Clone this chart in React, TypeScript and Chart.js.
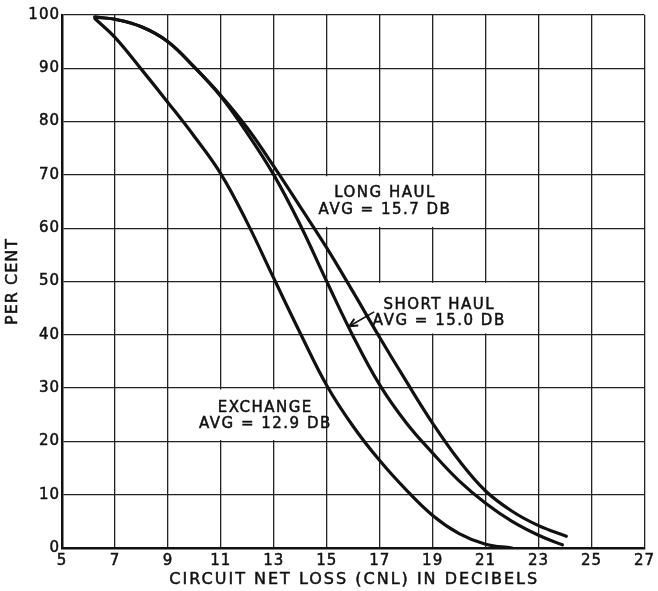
import React, { useEffect, useRef } from 'react';
import { Chart, registerables } from 'chart.js';

Chart.register(...registerables);

// ---- data ----
const exchangeX = [6.25, 7, 8, 9, 10, 11, 12, 13, 14, 15, 16, 17, 18, 19, 20, 21, 22];
const exchangeY = [99.3, 95.8, 89.8, 83.6, 77.2, 70.2, 61, 50.6, 40.3, 30.5, 22.8, 16.4, 10.9, 6.1, 2.7, 0.7, 0];

const shortHaulX = [6.24, 7, 8, 9, 10, 11, 12, 13, 14, 15, 16, 17, 18, 19, 20, 21, 22, 23, 23.9];
const shortHaulY = [99.6, 99.2, 97.8, 95.0, 90.2, 84.7, 77.8, 70, 60.6, 50, 39.7, 30.6, 23.5, 17.8, 12.6, 8.4, 5, 2.4, 0.6];

const longHaulX = [6.24, 7, 8, 9, 10, 11, 12, 13, 14, 15, 16, 17, 18, 19, 20, 21, 22, 23, 24.05];
const longHaulY = [99.6, 99.2, 97.8, 95.0, 90.2, 84.9, 78.8, 71.6, 64, 56.3, 48, 39.5, 31.3, 23.4, 16.4, 10.7, 6.9, 4.2, 2.2];

const xTickMin = 5;
const xTickMax = 27;
const xTickStep = 2;
const yTickMin = 0;
const yTickMax = 100;
const yTickStep = 10;

const xTitle = 'CIRCUIT NET LOSS (CNL) IN DECIBELS';
const yTitle = 'PER CENT';

const labelLongHaul = ['LONG HAUL', 'AVG = 15.7 DB'];
const labelShortHaul = ['SHORT HAUL', 'AVG = 15.0 DB'];
const labelExchange = ['EXCHANGE', 'AVG = 12.9 DB'];

// annotation placement (data units)
const annotations = [
  { lines: labelLongHaul, cx: 17.2, ys: [66.6, 63.4], box: [14.75, 19.95, 60.25, 69.75] },
  { lines: labelShortHaul, cx: 19.25, ys: [45.6, 42.5], box: [16.95, 21.9, 40.25, 49.75] },
  { lines: labelExchange, cx: 12.68, ys: [26.3, 23.2], box: [10.2, 14.9, 20.25, 29.75] },
];
const arrowTail = { x: 16.79, y: 44.3 };
const arrowTip = { x: 15.85, y: 41.6 };

const INK = '#111111';
const FONT = '"DejaVu Sans", sans-serif';

const toPoints = (xs: number[], ys: number[]) => xs.map((x, i) => ({ x, y: ys[i] }));

const drawText = (ctx: any, t: string, x: number, y: number) => {
  ctx.fillText(t, x, y);
  ctx.strokeText(t, x, y);
};

const annotPlugin = {
  id: 'annot',
  beforeDraw(chart: any) {
    (chart.ctx as any).letterSpacing = '1px';
  },
  beforeDatasetsDraw(chart: any) {
    const { ctx, scales } = chart;
    const xs = scales.x;
    const ys = scales.y;
    ctx.save();
    for (const a of annotations) {
      const x0 = xs.getPixelForValue(a.box[0]);
      const x1 = xs.getPixelForValue(a.box[1]);
      const y0 = ys.getPixelForValue(a.box[3]);
      const y1 = ys.getPixelForValue(a.box[2]);
      ctx.fillStyle = '#ffffff';
      ctx.fillRect(x0, y0, x1 - x0, y1 - y0);
      ctx.fillStyle = INK;
      ctx.strokeStyle = INK;
      ctx.lineWidth = 0.5;
      ctx.font = `15px ${FONT}`;
      (ctx as any).letterSpacing = '1.5px';
      ctx.textAlign = 'center';
      ctx.textBaseline = 'middle';
      a.lines.forEach((t: string, i: number) => {
        drawText(ctx, t, xs.getPixelForValue(a.cx), ys.getPixelForValue(a.ys[i]));
      });
    }
    ctx.restore();
  },
  afterDatasetsDraw(chart: any) {
    const { ctx, scales } = chart;
    const xs = scales.x;
    const ys = scales.y;
    const tx = xs.getPixelForValue(arrowTail.x);
    const ty = ys.getPixelForValue(arrowTail.y);
    const hx = xs.getPixelForValue(arrowTip.x);
    const hy = ys.getPixelForValue(arrowTip.y);
    const ang = Math.atan2(hy - ty, hx - tx);
    ctx.save();
    ctx.strokeStyle = INK;
    ctx.lineWidth = 1.6;
    ctx.beginPath();
    ctx.moveTo(tx, ty);
    ctx.lineTo(hx, hy);
    ctx.stroke();
    ctx.lineWidth = 2;
    ctx.beginPath();
    const L = 9;
    ctx.moveTo(hx + L * Math.cos(ang + Math.PI - 0.45), hy + L * Math.sin(ang + Math.PI - 0.45));
    ctx.lineTo(hx, hy);
    ctx.lineTo(hx + L * Math.cos(ang + Math.PI + 0.45), hy + L * Math.sin(ang + Math.PI + 0.45));
    ctx.stroke();
    ctx.restore();
  },
  afterDraw(chart: any) {
    const { ctx, chartArea } = chart;
    ctx.save();
    ctx.fillStyle = INK;
    ctx.strokeStyle = INK;
    ctx.lineWidth = 0.5;
    ctx.font = `16px ${FONT}`;
    ctx.textAlign = 'center';
    ctx.textBaseline = 'middle';
    (ctx as any).letterSpacing = '2px';
    drawText(ctx, xTitle, (chartArea.left + chartArea.right) / 2 + 1, 580);
    (ctx as any).letterSpacing = '1px';
    ctx.translate(13, (chartArea.top + chartArea.bottom) / 2);
    ctx.rotate(-Math.PI / 2);
    drawText(ctx, yTitle, 0, 0);
    ctx.restore();
  },
};

export default function App() {
  const ref = useRef<HTMLCanvasElement | null>(null);

  useEffect(() => {
    document.body.style.margin = '0';
    const canvas = ref.current;
    if (!canvas) return;
    const lineStyle = {
      borderColor: INK,
      borderWidth: 3.2,
      pointRadius: 0,
      fill: false,
      tension: 0.4,
      borderCapStyle: 'round' as const,
    };
    const tickFont = { family: FONT, size: 15 };
    const chart = new Chart(canvas, {
      type: 'line',
      data: {
        datasets: [
          { label: 'Long haul', data: toPoints(longHaulX, longHaulY), ...lineStyle },
          { label: 'Short haul', data: toPoints(shortHaulX, shortHaulY), ...lineStyle },
          { label: 'Exchange', data: toPoints(exchangeX, exchangeY), ...lineStyle },
        ],
      },
      options: {
        animation: false,
        responsive: true,
        maintainAspectRatio: false,
        devicePixelRatio: 1,
        layout: { padding: { top: 15, right: 12, left: 0, bottom: 0 } },
        plugins: { legend: { display: false }, tooltip: { enabled: false } },
        scales: {
          x: {
            type: 'linear',
            min: xTickMin,
            max: xTickMax,
            ticks: {
              stepSize: xTickStep,
              color: INK,
              font: tickFont,
              padding: 4,
              maxRotation: 0,
              autoSkip: false,
              textStrokeColor: INK,
              textStrokeWidth: 0.5,
            },
            grid: { color: '#222222', lineWidth: 1.3, drawTicks: false },
            border: { color: INK, width: 2.5 },
            title: { display: false },
            afterFit: (s: any) => {
              s.height = 43;
            },
          },
          y: {
            type: 'linear',
            min: yTickMin,
            max: yTickMax,
            ticks: {
              stepSize: yTickStep,
              color: INK,
              font: tickFont,
              padding: 2,
              textStrokeColor: INK,
              textStrokeWidth: 0.5,
            },
            grid: { color: '#222222', lineWidth: 1.3, drawTicks: false },
            border: { color: INK, width: 2.5 },
            title: { display: false },
            afterFit: (s: any) => {
              s.width = 62;
            },
          },
        },
      },
      plugins: [annotPlugin],
    });
    return () => chart.destroy();
  }, []);

  return (
    <div style={{ width: 658, height: 591, position: 'relative', background: '#fff' }}>
      <canvas ref={ref} />
    </div>
  );
}
